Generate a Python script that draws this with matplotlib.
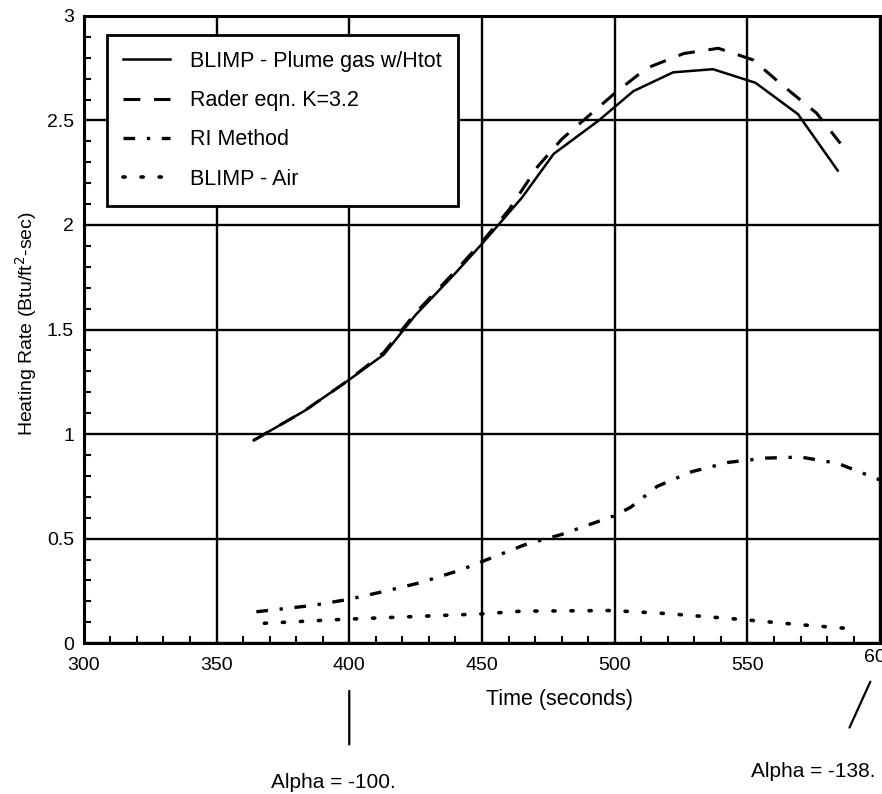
import matplotlib
matplotlib.use("Agg")
import matplotlib.pyplot as plt
from matplotlib.ticker import MultipleLocator

plt.rcParams["font.family"] = ["Liberation Sans", "DejaVu Sans"]

# ── data ────────────────────────────────────────────────────────────────────
blimp_plume_t = [364, 383, 400, 413, 425, 440, 450, 465, 477, 494, 507, 522, 537, 553, 569, 584]
blimp_plume_q = [0.97, 1.11, 1.26, 1.38, 1.57, 1.77, 1.91, 2.13, 2.34, 2.50, 2.64, 2.73, 2.745, 2.68, 2.53, 2.26]

rader_t = [364, 383, 400, 413, 425, 440, 450, 460, 471, 480, 490, 500, 512, 526, 539, 552, 563, 576, 585]
rader_q = [0.97, 1.11, 1.26, 1.39, 1.58, 1.78, 1.92, 2.07, 2.28, 2.41, 2.52, 2.63, 2.75, 2.82, 2.845, 2.79, 2.67, 2.535, 2.39]

ri_t = [365, 386, 400, 414, 427, 442, 450, 466, 480, 500, 506, 516, 529, 543, 557, 570, 584, 600]
ri_q = [0.15, 0.18, 0.21, 0.25, 0.29, 0.35, 0.39, 0.47, 0.52, 0.61, 0.65, 0.75, 0.82, 0.865, 0.885, 0.89, 0.86, 0.78]

air_t = [368, 396, 420, 450, 465, 499, 520, 548, 570, 590]
air_q = [0.095, 0.113, 0.125, 0.14, 0.153, 0.156, 0.141, 0.113, 0.088, 0.068]

x_ticks = [300, 350, 400, 450, 500, 550, 600]
y_ticks = [0, 0.5, 1, 1.5, 2, 2.5, 3]
y_tick_labels = ["0", "0.5", "1", "1.5", "2", "2.5", "3"]

fig = plt.figure(figsize=(8.82, 7.94), dpi=100)
ax = fig.add_axes([0.095, 0.19, 0.903, 0.79])

ax.plot(blimp_plume_t, blimp_plume_q, color="black", lw=1.8,
        label="BLIMP - Plume gas w/Htot")
ax.plot(rader_t, rader_q, color="black", lw=2.2, dashes=(5.5, 4.5),
        label="Rader eqn. K=3.2")
ax.plot(ri_t, ri_q, color="black", lw=2.4, dashes=(3.5, 3.5, 1, 3.5),
        label="RI Method")
ax.plot(air_t, air_q, color="black", lw=2.6, dashes=(0.6, 4.4),
        dash_capstyle="round", label="BLIMP - Air")

ax.set_xlim(300, 600)
ax.set_ylim(0, 3)
ax.set_xticks(x_ticks)
ax.set_yticks(y_ticks)
ax.set_yticklabels(y_tick_labels)
ax.set_xticklabels([str(v) for v in x_ticks[:-1]] + [""])
ax.xaxis.set_minor_locator(MultipleLocator(10))
ax.yaxis.set_minor_locator(MultipleLocator(0.1))
ax.tick_params(which="both", direction="in", top=False, right=False, width=1.5)
ax.tick_params(axis="x", which="major", length=0, labelsize=14, pad=10)
ax.tick_params(axis="y", which="major", length=0, labelsize=14, pad=7)
ax.tick_params(which="minor", length=5)
ax.grid(True, which="major", color="black", lw=1.7)
for s in ax.spines.values():
    s.set_linewidth(2.2)

# "600" sits a little higher in the scan
ax.text(600, -0.067, "600", ha="center", va="center", fontsize=14,
        clip_on=False)

ax.text(479, -0.268, "Time (seconds)", ha="center", va="center",
        fontsize=15.5, clip_on=False)
ax.text(-0.073, 0.51, "Heating Rate (Btu/ft$^2$-sec)", rotation=90,
        ha="center", va="center", fontsize=14, transform=ax.transAxes)

leg = ax.legend(loc="upper left", bbox_to_anchor=(0.029, 0.970),
                borderaxespad=0, fancybox=False, framealpha=1,
                edgecolor="black", fontsize=15.5, handlelength=2.2,
                labelspacing=0.85, borderpad=0.75, handletextpad=0.9)
leg.get_frame().set_linewidth(2)

# alpha annotations below the axis
ax.annotate("", xy=(400, -0.215), xytext=(400, -0.498),
            annotation_clip=False,
            arrowprops=dict(arrowstyle="-", color="black", lw=1.6))
ax.text(394, -0.665, "Alpha = -100.", ha="center", va="center", fontsize=15,
        clip_on=False)
ax.annotate("", xy=(596.7, -0.172), xytext=(588.0, -0.416),
            annotation_clip=False,
            arrowprops=dict(arrowstyle="-", color="black", lw=1.6))
ax.text(551.5, -0.612, "Alpha = -138.", ha="left", va="center", fontsize=15,
        clip_on=False)

fig.savefig("out.png", dpi=100)
